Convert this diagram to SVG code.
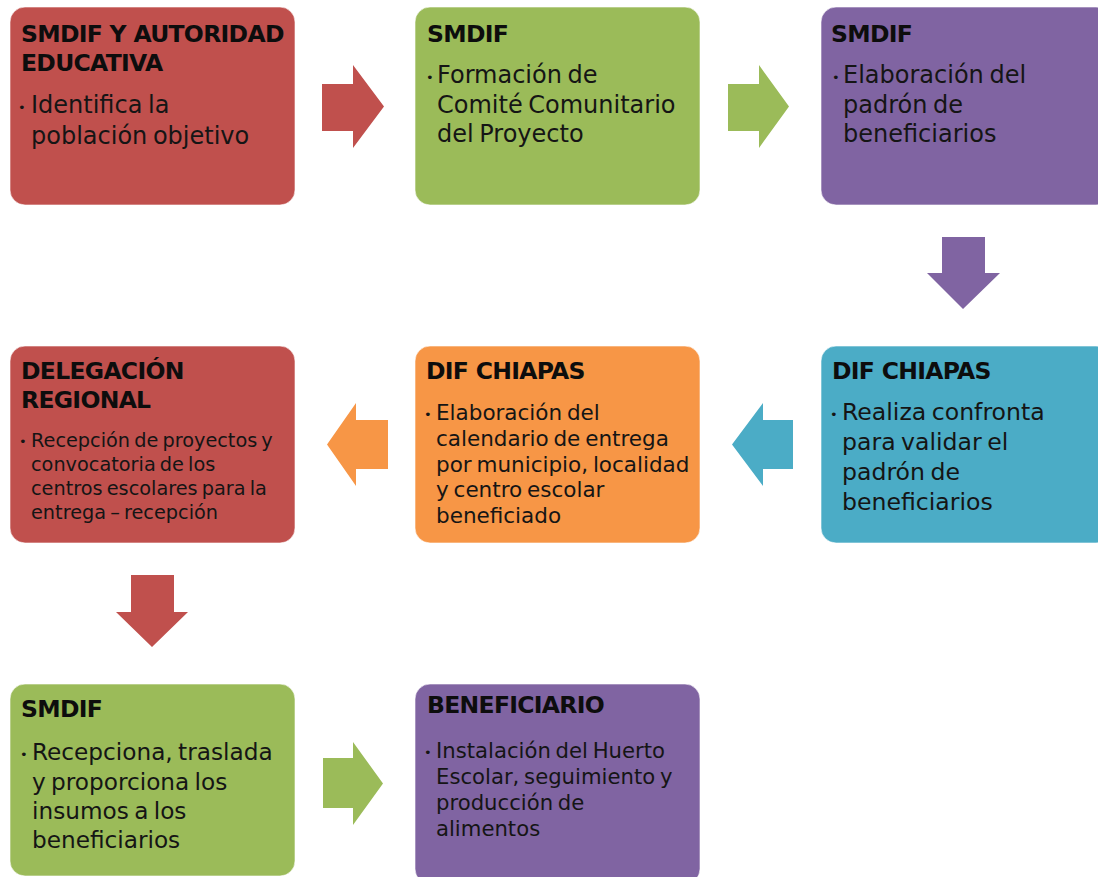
<svg xmlns="http://www.w3.org/2000/svg" width="1098" height="877" viewBox="0 0 1098 877">
<style>
.box{stroke:#ffffff;stroke-opacity:0.6;stroke-width:1}
.red{fill:#C0504D}.green{fill:#9BBB59}.purple{fill:#8064A2}.orange{fill:#F79646}.teal{fill:#4BACC6}
.h{font-family:"DejaVu Sans",sans-serif;font-weight:bold;font-size:23.5px;letter-spacing:-0.7px;fill:#0d0d0d}
.b{font-family:"DejaVu Sans",sans-serif;fill:#151515;word-spacing:-2px}
.dot{font-family:"DejaVu Sans",sans-serif;font-size:13px;fill:#151515}
.s24{font-size:24px}.s23{font-size:23.2px}.s235{font-size:23.6px}.s21{font-size:21.5px}.s212{font-size:21.2px}.s19{font-size:19.3px}
</style>
<rect width="1098" height="877" fill="#ffffff"/>
<g id="connectors">
<polygon class="red" points="322,84 353,84 353,65 384,106.5 353,148 353,131 322,131"/>
<polygon class="green" points="728,84 759,84 759,65 789,106.5 759,148 759,131 728,131"/>
<polygon class="purple" points="942,237 985,237 985,273 1000,273 963,309 927,273 942,273"/>
<polygon class="teal" points="793,420 763,420 763,403 732,444.5 763,486 763,469 793,469"/>
<polygon class="orange" points="388,420 356,420 356,403 327,444.5 356,486 356,469 388,469"/>
<polygon class="red" points="131,575 174,575 174,612 188,612 152,647 116,612 131,612"/>
<polygon class="green" points="323,758 353,758 353,742 383,783.5 353,825 353,808 323,808"/>
</g>
<g id="node1">
<rect class="box red" x="10" y="7" width="285" height="198" rx="15"/>
<text class="h" x="21" y="42">SMDIF Y AUTORIDAD</text>
<text class="h" x="21" y="71">EDUCATIVA</text>
<text class="dot" x="18" y="112">•</text>
<text class="b s24" x="31" y="113">Identifica la</text>
<text class="b s24" x="31" y="144">población objetivo</text>
</g>
<g id="node2">
<rect class="box green" x="415" y="7" width="285" height="198" rx="15"/>
<text class="h" x="427" y="42">SMDIF</text>
<text class="dot" x="426" y="82">•</text>
<text class="b s24" x="437" y="83">Formación de</text>
<text class="b s24" x="437" y="113">Comité Comunitario</text>
<text class="b s24" x="437" y="142">del Proyecto</text>
</g>
<g id="node3">
<rect class="box purple" x="821" y="7" width="290" height="198" rx="15"/>
<text class="h" x="831" y="42">SMDIF</text>
<text class="dot" x="832" y="82">•</text>
<text class="b s24" x="843" y="83">Elaboración del</text>
<text class="b s24" x="843" y="113">padrón de</text>
<text class="b s24" x="843" y="142">beneficiarios</text>
</g>
<g id="node4">
<rect class="box teal" x="821" y="346" width="290" height="197" rx="15"/>
<text class="h" x="832" y="379">DIF CHIAPAS</text>
<text class="dot" x="830" y="419">•</text>
<text class="b s235" x="842" y="420">Realiza confronta</text>
<text class="b s235" x="842" y="450">para validar el</text>
<text class="b s235" x="842" y="480">padrón de</text>
<text class="b s235" x="842" y="510">beneficiarios</text>
</g>
<g id="node5">
<rect class="box orange" x="415" y="346" width="285" height="197" rx="15"/>
<text class="h" x="426" y="379">DIF CHIAPAS</text>
<text class="dot" x="424" y="419">•</text>
<text class="b s21" x="436" y="420">Elaboración del</text>
<text class="b s21" x="436" y="446">calendario de entrega</text>
<text class="b s21" x="436" y="472">por municipio, localidad</text>
<text class="b s21" x="436" y="497">y centro escolar</text>
<text class="b s21" x="436" y="523">beneficiado</text>
</g>
<g id="node6">
<rect class="box red" x="10" y="346" width="285" height="197" rx="15"/>
<text class="h" x="21" y="379">DELEGACIÓN</text>
<text class="h" x="21" y="408">REGIONAL</text>
<text class="dot" x="19" y="446">•</text>
<text class="b s19" x="31" y="447">Recepción de proyectos y</text>
<text class="b s19" x="31" y="471">convocatoria de los</text>
<text class="b s19" x="31" y="495">centros escolares para la</text>
<text class="b s19" x="31" y="519">entrega – recepción</text>
</g>
<g id="node7">
<rect class="box green" x="10" y="684" width="285" height="192" rx="15"/>
<text class="h" x="21" y="717">SMDIF</text>
<text class="dot" x="20" y="759">•</text>
<text class="b s23" x="32" y="760">Recepciona, traslada</text>
<text class="b s23" x="32" y="790">y proporciona los</text>
<text class="b s23" x="32" y="819">insumos a los</text>
<text class="b s23" x="32" y="848">beneficiarios</text>
</g>
<g id="node8">
<rect class="box purple" x="415" y="684" width="285" height="200" rx="15"/>
<text class="h" x="427" y="713">BENEFICIARIO</text>
<text class="dot" x="424" y="757">•</text>
<text class="b s212" x="436" y="758">Instalación del Huerto</text>
<text class="b s212" x="436" y="784">Escolar, seguimiento y</text>
<text class="b s212" x="436" y="810">producción de</text>
<text class="b s212" x="436" y="836">alimentos</text>
</g>
</svg>
